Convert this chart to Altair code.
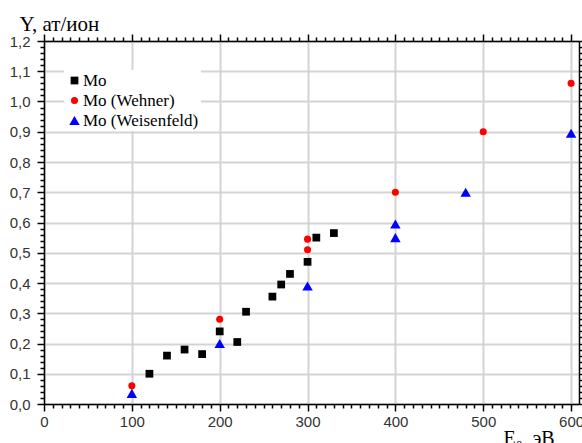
import altair as alt
import pandas as pd

# Sputtering yield of Mo versus ion energy
series_names = ["Mo", "Mo (Wehner)", "Mo (Weisenfeld)"]

mo_e = [120, 140, 160, 180, 200, 220, 230, 260, 270, 280, 300, 310, 330]
mo_y = [0.10, 0.16, 0.18, 0.165, 0.24, 0.205, 0.305, 0.355, 0.395, 0.43, 0.47, 0.55, 0.565]

wehner_e = [100, 200, 300, 300, 400, 500, 600]
wehner_y = [0.06, 0.28, 0.545, 0.51, 0.70, 0.90, 1.06]

weisenfeld_e = [100, 200, 300, 400, 400, 480, 600]
weisenfeld_y = [0.035, 0.20, 0.39, 0.595, 0.55, 0.70, 0.895]

rows = []
for name, es, ys in zip(series_names, [mo_e, wehner_e, weisenfeld_e], [mo_y, wehner_y, weisenfeld_y]):
    for e, y in zip(es, ys):
        rows.append({"E": e, "Y": y, "series": name})
df = pd.DataFrame(rows)

x_ticks = list(range(0, 601, 10))
y_ticks = [round(i * 0.02, 2) for i in range(0, 61)]

x_major = "datum.value % 100 === 0"
y_major = "abs(datum.value * 10 - round(datum.value * 10)) < 1e-6"

x_scale = alt.Scale(domain=[0, 609], nice=False, zero=False)
y_scale = alt.Scale(domain=[0, 1.2], nice=False, zero=False)

tick_font = "Liberation Sans"
serif = "Liberation Serif, Times New Roman, serif"

x_axis = alt.Axis(
    values=x_ticks,
    labelExpr=f"{x_major} ? format(datum.value, 'd') : ''",
    labelOverlap=False,
    labelFlush=False,
    labelFont=tick_font,
    labelFontSize=15,
    labelColor="#333333",
    labelPadding=3,
    tickSize={"condition": {"test": x_major, "value": 7}, "value": 4},
    tickColor="#000000",
    tickWidth=1.5,
    domainColor="#000000",
    domainWidth=1.5,
    grid=True,
    gridColor="#d4d4d4",
    gridWidth=2,
    gridOpacity={"condition": {"test": x_major, "value": 1}, "value": 0},
    title="E₀, эВ",
    titleFont=serif,
    titleFontSize=20,
    titleFontWeight="normal",
    titleColor="#000000",
    titleAnchor="start",
    titleAlign="left",
    titleBaseline="alphabetic",
    titleX=459,
    titleY=40,
)

y_axis = alt.Axis(
    values=y_ticks,
    labelExpr=f"{y_major} ? replace(format(datum.value, '.1f'), '.', ',') : ''",
    labelOverlap=False,
    labelFlush=False,
    labelFont=tick_font,
    labelFontSize=15,
    labelColor="#333333",
    labelPadding=7,
    tickSize={"condition": {"test": y_major, "value": 7}, "value": 4},
    tickColor="#000000",
    tickWidth=1.5,
    domainColor="#000000",
    domainWidth=1.5,
    grid=True,
    gridColor="#d4d4d4",
    gridWidth=2,
    gridOpacity={"condition": {"test": y_major, "value": 1}, "value": 0},
    title="Y, ат/ион",
    titleFont=serif,
    titleFontSize=21,
    titleFontWeight="normal",
    titleColor="#000000",
    titleAngle=0,
    titleAlign="left",
    titleBaseline="alphabetic",
    titleX=-25,
    titleY=-11,
)

x_frame = alt.Axis(
    orient="top", values=x_ticks, labels=False, grid=False, title=None,
    tickSize={"condition": {"test": x_major, "value": 7}, "value": 4},
    tickColor="#000000", tickWidth=1.5, domainColor="#000000", domainWidth=1.5,
)
y_frame = alt.Axis(
    orient="right", values=y_ticks, labels=False, grid=False, title=None,
    tickSize={"condition": {"test": y_major, "value": 7}, "value": 4},
    tickColor="#000000", tickWidth=1.5, domainColor="#000000", domainWidth=1.5,
)

legend = alt.Legend(
    title=None,
    orient="none",
    legendX=20,
    legendY=29,
    labelFont=serif,
    labelFontSize=17,
    labelColor="#000000",
    labelOffset=0,
    symbolStrokeWidth=0,
    rowPadding=2,
    padding=2,
    fillColor="#ffffff",
)

points = alt.Chart(df).mark_point(filled=True, opacity=1).encode(
    x=alt.X("E:Q", scale=x_scale, axis=x_axis),
    y=alt.Y("Y:Q", scale=y_scale, axis=y_axis),
    color=alt.Color("series:N", scale=alt.Scale(domain=series_names, range=["#000000", "#ff0000", "#0000ff"]), legend=legend),
    shape=alt.Shape("series:N", scale=alt.Scale(domain=series_names, range=["square", "circle", "triangle-up"]), legend=legend),
    size=alt.Size("series:N", scale=alt.Scale(type="ordinal", domain=series_names, range=[60, 50, 110]), legend=None),
    order=alt.Order("series:N"),
)

frame = alt.Chart(df).mark_point(opacity=0).encode(
    x=alt.X("E:Q", scale=x_scale, axis=x_frame),
    y=alt.Y("Y:Q", scale=y_scale, axis=y_frame),
)

chart = alt.layer(points, frame).resolve_axis(
    x="independent", y="independent"
).properties(
    width=535,
    height=363,
    autosize=alt.AutoSizeParams(type="none"),
    padding={"left": 44, "top": 41, "right": 3, "bottom": 39},
    background="#ffffff",
).configure_view(
    stroke=None
).configure_legend(
    labelFont=serif,
    labelFontSize=17,
    labelColor="#000000",
)

chart.save("out.html", embed_options={"renderer": "svg", "actions": False})
